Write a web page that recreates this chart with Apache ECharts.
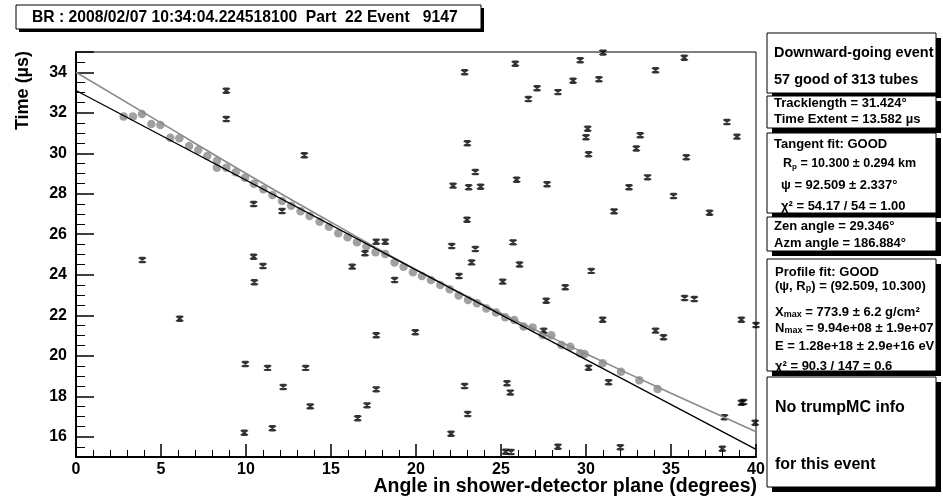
<!DOCTYPE html>
<html><head><meta charset="utf-8">
<script src="https://cdn.jsdelivr.net/npm/echarts@6/dist/echarts.min.js"></script>
<style>html,body{margin:0;padding:0;background:#fff}#c{width:943px;height:499px}</style>
</head><body><div id="c"></div>
<script>
// Good tubes (grey circles): angle (deg), time (us)
const goodAngle = [2.80,3.35,3.88,4.43,4.96,5.55,6.08,6.65,7.19,7.72,8.29,8.29,8.84,9.39,9.94,10.47,11.02,11.56,12.12,12.66,13.21,13.74,14.33,14.88,15.43,15.98,16.53,17.08,17.62,18.19,18.74,19.27,19.82,20.35,20.88,21.43,21.98,22.51,23.06,23.59,24.14,24.71,25.25,25.78,26.33,26.86,27.45,27.96,28.55,29.08,29.66,29.92,30.98,32.06,33.14,34.21];
const goodTime = [31.81,31.81,31.94,31.44,31.40,30.77,30.74,30.36,30.16,29.86,29.63,29.29,29.29,29.06,28.79,28.50,28.22,27.94,27.64,27.41,27.13,26.90,26.62,26.37,26.05,25.85,25.60,25.39,25.11,25.02,24.60,24.40,24.12,23.94,23.74,23.49,23.28,22.97,22.75,22.59,22.33,22.14,21.90,21.77,21.44,21.40,21.02,21.01,20.53,20.45,20.12,20.09,19.63,19.21,18.79,18.36];
// Rejected tubes (black markers)
const badAngle = [8.84,8.84,13.43,10.45,12.12,17.66,18.19,
 31.0,35.78,29.66,25.84,22.86,34.09,29.24,30.76,27.12,28.35,26.61,38.29,38.88,30.10,30.0,33.19,32.96,30.15,35.90,23.02,23.49,22.18,23.10,23.80,25.92,27.71,33.62,32.53,35.15,31.65,37.27,23.0,22.1,23.49,25.71,
 3.90,6.10,10.45,11.0,10.49,16.25,17.0,18.74,17.66,9.96,11.27,13.51,12.19,17.66,13.78,17.12,16.57,9.90,11.55,
 23.27,26.09,22.53,25.10,30.31,28.78,27.66,19.96,30.98,27.51,34.09,34.56,35.80,36.37,39.14,40.0,30.15,31.33,22.86,25.35,25.55,23.04,22.06,39.14,39.27,38.14,39.95,28.35,32.02,38.02,25.27,25.59];
const badTime = [33.09,31.69,29.90,27.49,27.15,25.63,25.63,
 34.97,34.72,34.59,34.42,34.00,34.10,33.58,33.65,33.21,33.02,32.68,31.54,30.82,31.21,30.79,30.89,30.23,29.95,29.80,30.49,29.07,28.40,28.32,28.35,28.69,28.47,28.81,28.32,27.89,27.13,27.06,26.72,25.42,25.27,25.60,
 24.73,21.83,24.89,24.43,23.63,24.40,25.06,23.74,21.01,19.59,19.40,19.40,18.46,18.34,17.50,17.55,16.91,16.20,16.42,
 24.61,24.51,23.94,23.66,24.19,23.38,22.72,21.16,21.78,21.24,21.24,20.91,22.85,22.80,21.78,21.52,19.41,18.69,18.51,18.64,18.18,17.12,16.15,17.68,17.72,16.96,16.69,15.51,15.48,15.41,15.26,15.25];
// Black straight fit line
const lineAngle = [0, 20, 40];
const lineTime = [33.10, 24.24, 15.38];
// Grey tangent-fit curve
const curveAngle = [0, 5, 10, 15, 20, 25, 30, 35, 40];
const curveTime = [34.0, 31.5, 29.0, 26.6, 24.25, 22.1, 20.1, 18.15, 16.25];

const zip = (a, b) => a.map((v, i) => [v, b[i]]);
const F = "'Liberation Sans', Arial, Helvetica, sans-serif";

function rich(size) {
  return {
    n: {fontSize: size, fontWeight: 'bold', fontFamily: F, fill: '#000', lineHeight: size + 2},
    s: {fontSize: Math.round(size * 0.66), fontWeight: 'bold', fontFamily: F, fill: '#000', verticalAlign: 'bottom', lineHeight: 1}
  };
}
function text(x, y, str, size, z) {
  return {type: 'text', x: x, y: y, z: z || 10, silent: true,
    style: {text: str, rich: rich(size), align: 'left', verticalAlign: 'middle', fill: '#000',
      font: 'bold ' + size + 'px ' + F}};
}
const g = [];
function box(x, y, w, h, sh, z) {
  g.push({type: 'rect', z: z, silent: true, shape: {x: x + sh, y: y + sh, width: w, height: h}, style: {fill: '#000'}});
  g.push({type: 'rect', z: z + 1, silent: true, shape: {x: x, y: y, width: w, height: h}, style: {fill: '#fff', stroke: '#000', lineWidth: 1}});
}
// title box
box(16, 5, 465, 24, 3, 1);
g.push(text(32, 18, '{n|BR : 2008/02/07 10:34:04.224518100  Part  22 Event   9147}', 15.7, 3));
// right-hand boxes
const BX = 767, BW = 169, SH = 5;
box(BX, 33, BW, 60, SH, 1);
g.push(text(774, 53, '{n|Downward-going event}', 14.5, 3));
g.push(text(774, 80, '{n|57 good of 313 tubes}', 14.5, 3));
box(BX, 96, BW, 32, SH, 4);
g.push(text(774, 103, '{n|Tracklength = 31.424°}', 13, 6));
g.push(text(774, 119, '{n|Time Extent = 13.582 µs}', 13, 6));
box(BX, 133, BW, 80, SH, 7);
g.push(text(774, 144, '{n|Tangent fit: GOOD}', 13, 9));
g.push(text(783, 164, '{n|R}{s|p}{n| = 10.300 ± 0.294 km}', 12.5, 9));
g.push(text(781, 185, '{n|ψ = 92.509 ± 2.337°}', 13, 9));
g.push(text(781, 206, '{n|χ² = 54.17 / 54 = 1.00}', 13, 9));
box(BX, 217, BW, 34, SH, 10);
g.push(text(774, 226, '{n|Zen angle = 29.346°}', 13, 12));
g.push(text(774, 243, '{n|Azm angle = 186.884°}', 13, 12));
box(BX, 259, BW, 112, SH, 13);
g.push(text(775, 272, '{n|Profile fit: GOOD}', 13, 15));
g.push(text(775, 286, '{n|(ψ, R}{s|p}{n|) = (92.509, 10.300)}', 13, 15));
g.push(text(775, 312, '{n|X}{s|max}{n| = 773.9 ± 6.2 g/cm²}', 13, 15));
g.push(text(775, 328, '{n|N}{s|max}{n| = 9.94e+08 ± 1.9e+07}', 13, 15));
g.push(text(775, 346, '{n|E = 1.28e+18 ± 2.9e+16 eV}', 13, 15));
g.push(text(775, 366, '{n|χ² = 90.3 / 147 = 0.6}', 13, 15));
box(BX, 377, BW, 110, SH, 16);
g.push(text(775, 408, '{n|No trumpMC info}', 16, 18));
g.push(text(775, 465, '{n|for this event}', 16, 18));
// axis titles
g.push({type: 'text', x: 23, y: 51, rotation: Math.PI / 2, silent: true, z: 3,
  style: {text: 'Time (µs)', fill: '#000', font: 'bold 18px ' + F, align: 'right', verticalAlign: 'middle'}});
g.push({type: 'text', x: 757, y: 487, silent: true, z: 3,
  style: {text: 'Angle in shower-detector plane (degrees)', fill: '#000', font: 'bold 19.5px ' + F, align: 'right', verticalAlign: 'middle'}});

const chart = echarts.init(document.getElementById('c'), null, {renderer: 'canvas'});
chart.setOption({
  animation: false,
  backgroundColor: '#fff',
  grid: {left: 76, top: 52, width: 680, height: 405, show: true, borderColor: '#000', borderWidth: 1, backgroundColor: 'transparent'},
  xAxis: {type: 'value', min: 0, max: 40, interval: 5,
    axisLine: {show: true, onZero: false, lineStyle: {color: '#000', width: 2}},
    axisTick: {show: true, inside: true, length: 13, lineStyle: {color: '#000', width: 1.5}},
    minorTick: {show: true, splitNumber: 5, length: 7, lineStyle: {color: '#000', width: 1}},
    splitLine: {show: false},
    axisLabel: {color: '#000', fontWeight: 'bold', fontSize: 16, fontFamily: F, margin: 5}},
  yAxis: {type: 'value', min: 15, max: 35, splitNumber: 10, minInterval: 2, maxInterval: 2,
    axisLine: {show: true, onZero: false, lineStyle: {color: '#000', width: 2}},
    axisTick: {show: true, inside: true, length: 18, lineStyle: {color: '#000', width: 1.5}},
    minorTick: {show: true, splitNumber: 4, length: 9, lineStyle: {color: '#000', width: 1}},
    splitLine: {show: false},
    axisLabel: {color: '#000', fontWeight: 'bold', fontSize: 16, fontFamily: F, margin: 9,
      showMinLabel: false, showMaxLabel: false,
      formatter: v => (Math.abs(v % 2) < 1e-9 ? String(v) : '')}},
  series: [
    {type: 'scatter', data: zip(goodAngle, goodTime), symbol: 'circle', symbolSize: 8.5,
      itemStyle: {color: '#8a8a8a'}, z: 2, silent: true},
    {type: 'scatter', data: zip(badAngle, badTime), symbol: 'path://M0,0L8,6M8,0L0,6M4,0L4,6M1,0L7,0M1,6L7,6',
      symbolSize: [7, 5], itemStyle: {color: 'transparent', borderColor: '#000', borderWidth: 1.7}, z: 3, silent: true},
    {type: 'line', data: zip(curveAngle, curveTime), showSymbol: false, smooth: true,
      lineStyle: {color: '#8a8a8a', width: 1.6}, z: 4, silent: true},
    {type: 'line', data: zip(lineAngle, lineTime), showSymbol: false,
      lineStyle: {color: '#000', width: 1.3}, z: 5, silent: true}
  ],
  graphic: g
});
</script></body></html>
